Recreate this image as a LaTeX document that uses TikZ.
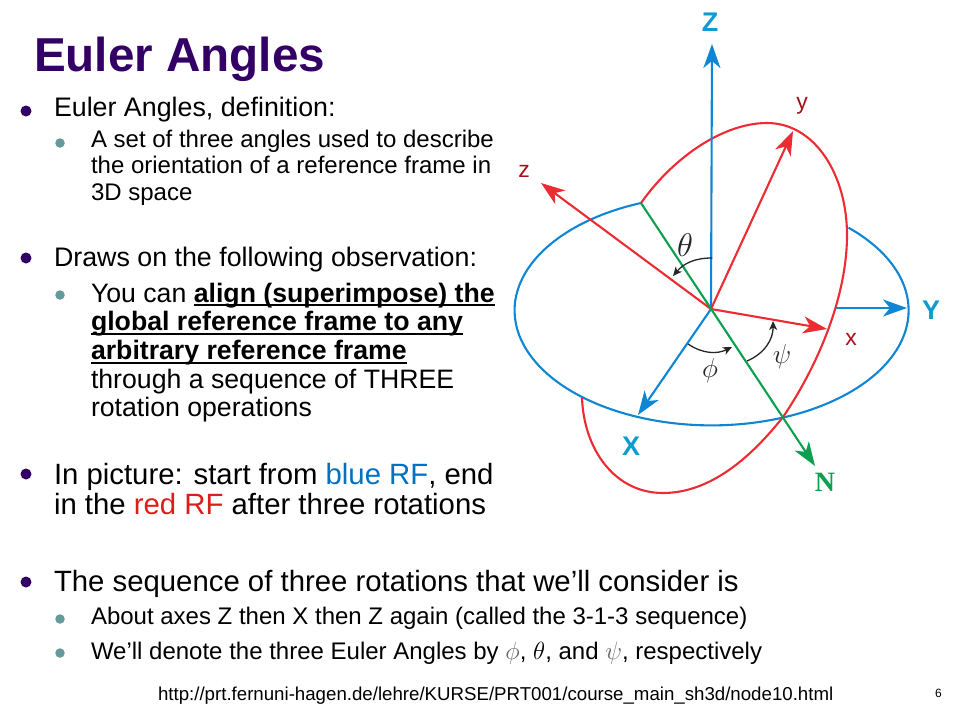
\documentclass[tikz,border=0pt]{standalone}
\usepackage{fontspec}
\setmainfont{Liberation Sans}
\newfontfamily\nfont{Liberation Serif}
\usetikzlibrary{arrows.meta}
\definecolor{titlepurple}{HTML}{330066}
\definecolor{subteal}{HTML}{669999}
\definecolor{framebluetxt}{HTML}{0F9AD0}
\definecolor{frameblue}{HTML}{0E86D4}
\definecolor{framered}{HTML}{EC2B33}
\definecolor{labelred}{HTML}{A80F1B}
\definecolor{nodegreen}{HTML}{0BA04F}
\definecolor{wordblue}{HTML}{0070C0}
\definecolor{wordred}{HTML}{DD1C1C}
\newcommand{\fsz}[1]{\fontsize{#1}{#1}\selectfont}
\newsavebox{\ulbox}
\newcommand{\ulb}[1]{\sbox{\ulbox}{\textbf{#1}}\usebox{\ulbox}\llap{\rule[-4pt]{\wd\ulbox}{2pt}}}
\tikzset{
  x=1pt, y=1pt,
  line/.style={anchor=base west, inner sep=0pt, outer sep=0pt},
  big/.style={line, font=\fsz{26.8}},
  bigger/.style={line, font=\fsz{29.33}},
  mid/.style={line, font=\fsz{26.67}},
  small/.style={line, font=\fsz{24}},
  bulA/.style={circle, fill=titlepurple, inner sep=0pt, minimum size=11pt},
  bulB/.style={circle, fill=subteal, inner sep=0pt, minimum size=9.5pt},
  axis/.style={line width=2.1pt, -{Stealth[length=24pt,width=17pt,inset=7pt]}},
  ring/.style={line width=2.1pt},
  turn/.style={black!85, line width=1.3pt, -{Stealth[length=9pt,width=8pt,inset=2.5pt]}},
  capB/.style={text=framebluetxt, font=\fsz{27}\bfseries, inner sep=0pt},
  capR/.style={labelred, font=\fsz{23}, inner sep=0pt},
  greek/.style={inner sep=0pt, font=\fsz{24.88}, black!85, transform shape},
}
\begin{document}
\begin{tikzpicture}
    \useasboundingbox (0,0) rectangle (960,-720);
    % slide text
    \node[line, text=titlepurple, font=\fsz{47.6}\bfseries] (title) at (34,-71) {Euler Angles};
    \foreach \y [count=\i] in {111,258,474,582} { \node[bulA] (a\i) at (26,-\y) {}; }
    \foreach \y [count=\i] in {143,295,619,653} { \node[bulB] (b\i) at (60,-\y) {}; }
    \node[big] (l1) at (54,-116.5) {Euler Angles, definition:};
    \node[small] (l2) at (91,-147.5) {A set of three angles used to describe};
    \node[small] (l3) at (91,-173) {the orientation of a reference frame in};
    \node[small] (l4) at (91,-200.5) {3D space};
    \node[big] (l5) at (54,-266) {Draws on the following observation:};
    \node[mid] (l6) at (91,-302) {You can \ulb{align (superimpose) the}};
    \node[mid] (l7) at (91,-330.5) {\ulb{global reference frame to any}};
    \node[mid] (l8) at (91,-359.5) {\ulb{arbitrary reference frame}};
    \node[mid] (l9) at (91,-388) {through a sequence of THREE};
    \node[mid] (l10) at (91,-416.5) {rotation operations};
    \node[bigger] (l11) at (54,-484) {In picture: start from \textcolor{wordblue}{blue RF}, end};
    \node[bigger] (l12) at (54,-514) {in the \textcolor{wordred}{red RF} after three rotations};
    \node[bigger] (l13) at (54,-591) {The sequence of three rotations that we’ll consider is};
    \node[small] (l14) at (91,-624) {About axes Z then X then Z again (called the 3-1-3 sequence)};
    \node[small] (l15) at (91,-659) {We’ll denote the three Euler Angles by \textcolor{black!60}{$\phi$}, $\theta$, and \textcolor{black!60}{$\psi$}, respectively};
    \node[line, font=\fsz{18.67}] (url) at (158,-700) {http://prt.fernuni-hagen.de/lehre/KURSE/PRT001/course\_main\_sh3d/node10.html};
    \node[line, font=\fsz{12}] (page) at (935,-697) {6};
    % frames
    \coordinate (O) at (711,-309);
    \coordinate (ringA) at (641,-203);
    \coordinate (tipZ) at (712,-44);
    \coordinate (tipY) at (907,-308);
    \coordinate (baseY) at (836,-308);
    \coordinate (tipX) at (638,-415);
    \coordinate (tipx) at (827,-329);
    \coordinate (tipy) at (793,-131);
    \coordinate (tipz) at (541,-183);
    \coordinate (tipN) at (815,-466);
    \draw[ring, frameblue] (ringA) arc[start angle=111, end angle=406, x radius=197, y radius=115];
    \draw[ring, framered] (ringA) .. controls (675,-155) and (725,-123) .. (767,-123)
        .. controls (815,-123) and (847,-175) .. (847,-235)
        .. controls (847,-300) and (815,-370) .. (783,-417)
        .. controls (745,-465) and (705,-493) .. (663,-493)
        .. controls (615,-493) and (584,-450) .. (582,-398);
    \draw[axis, frameblue] (O) -- (tipZ);
    \draw[axis, frameblue] (baseY) -- (tipY);
    \draw[axis, frameblue] (O) -- (tipX);
    \draw[axis, framered] (O) -- (tipx);
    \draw[axis, framered] (O) -- (tipy);
    \draw[axis, framered] (O) -- (tipz);
    \draw[axis, nodegreen] (ringA) -- (tipN);
    % angles
    \coordinate (thetaA) at (712,-258);
    \coordinate (thetaB) at (673,-276);
    \coordinate (phiA) at (688,-344);
    \coordinate (phiB) at (732,-347);
    \coordinate (psiA) at (747,-361);
    \coordinate (psiB) at (773,-321);
    \draw[turn] (thetaA) to[bend right=25] (thetaB);
    \draw[turn] (phiA) to[bend right=30] (phiB);
    \draw[turn] (psiA) to[bend right=34] (psiB);
    \node[greek, scale=1.32] (theta) at (685,-245) {$\theta$};
    \node[greek, scale=1.1] (phi) at (710,-371) {$\phi$};
    \node[greek, scale=1.1] (psi) at (782,-357) {$\psi$};
    % axis names
    \node[capB] (nameZ) at (710,-22) {Z};
    \node[capB] (nameY) at (931,-310) {Y};
    \node[capB] (nameX) at (631,-446) {X};
    \node[inner sep=0pt, text=nodegreen, font=\nfont\fsz{28}\bfseries] (nameN) at (825,-482) {N};
    \node[capR] (namey) at (802,-106) {y};
    \node[capR] (namez) at (524,-171) {z};
    \node[capR] (namex) at (851,-339) {x};
\end{tikzpicture}
\end{document}
